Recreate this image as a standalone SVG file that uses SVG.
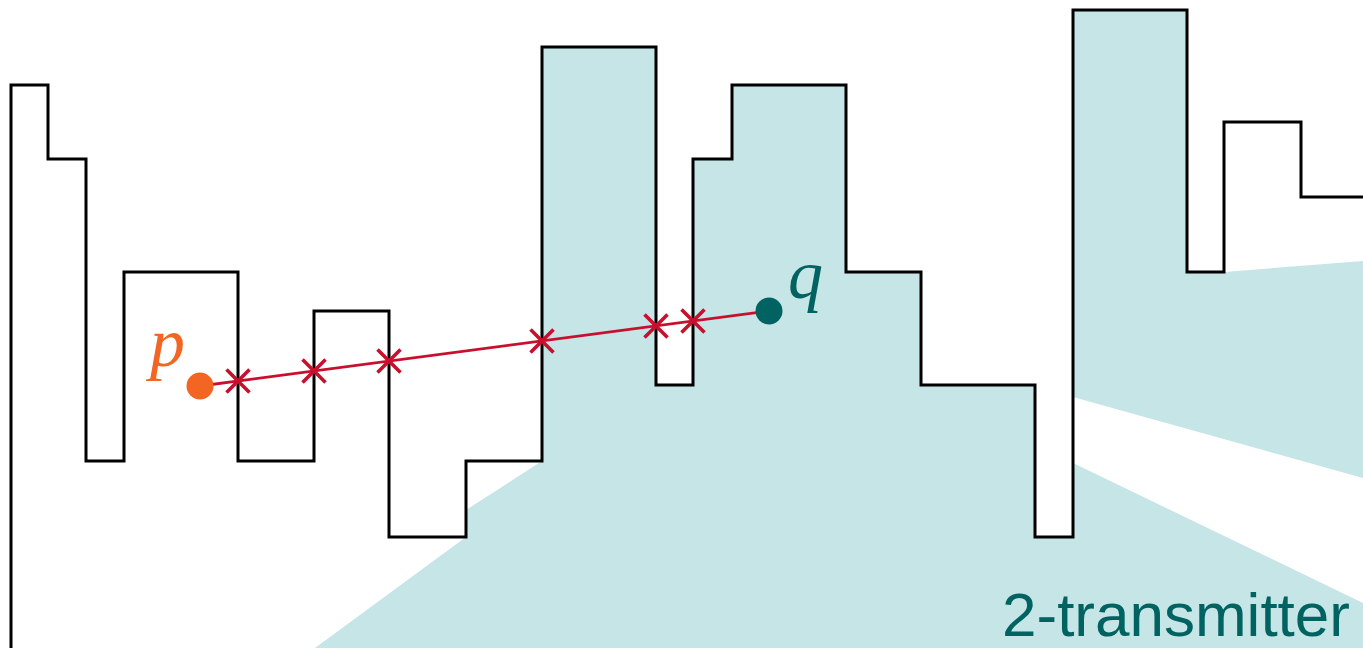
<svg xmlns="http://www.w3.org/2000/svg" width="1363" height="648" viewBox="0 0 1363 648">
  <style>
    .shade { fill: #c5e5e6; stroke: none; }
    .terrain { fill: none; stroke: #000; stroke-width: 3; stroke-linejoin: miter; }
    .seg { stroke: #c8102e; stroke-width: 2.8; fill: none; }
    .cross { stroke: #c8102e; stroke-width: 3.6; fill: none; }
    .lbl { font-family: "Liberation Serif", serif; font-style: italic; }
  </style>
  <defs>
    <path id="x" d="M -11.5 -11.5 L 11.5 11.5 M -11.5 11.5 L 11.5 -11.5" class="cross"/>
  </defs>

  <g id="visibility-region">
    <path class="shade" d="M 315 648 L 466 537 L 466 510 L 542 461 L 542 47 L 656 47 L 656 385 L 693 385 L 693 159 L 732 159 L 732 85 L 846 85 L 846 272 L 921 272 L 921 385 L 1035 385 L 1035 537 L 1073 537 L 1073 463 L 1363 603 L 1363 648 Z"/>
    <path class="shade" d="M 1073 10 L 1187 10 L 1187 272 L 1224 272 L 1363 261 L 1363 478 L 1073 397 Z"/>
  </g>

  <g id="terrain">
    <polyline class="terrain" points="11,648 11,85 48,85 48,159 86,159 86,461 124,461 124,272 238,272 238,461 314,461 314,311 389,311 389,537 466,537 466,461 542,461 542,47 656,47 656,385 693,385 693,159 732,159 732,85 846,85 846,272 921,272 921,385 1035,385 1035,537 1073,537 1073,10 1187,10 1187,272 1224,272 1224,122 1301,122 1301,197 1363,197"/>
  </g>

  <g id="connectors">
    <line class="seg" x1="200" y1="386" x2="769" y2="311"/>
    <use href="#x" x="238" y="381"/>
    <use href="#x" x="314" y="371"/>
    <use href="#x" x="389" y="361"/>
    <use href="#x" x="542" y="341"/>
    <use href="#x" x="656" y="326"/>
    <use href="#x" x="693" y="321"/>
  </g>

  <g id="p">
    <circle cx="200" cy="386" r="13.5" fill="#f26522"/>
    <text class="lbl" x="150" y="366" font-size="70" fill="#f26522">p</text>
  </g>

  <g id="q">
    <circle cx="769" cy="311" r="13.5" fill="#006361"/>
    <text class="lbl" x="788" y="298" font-size="70" fill="#006361">q</text>
  </g>

  <g id="label">
    <text x="1002" y="636" font-family="Liberation Sans, sans-serif" font-size="62" fill="#006361">2-transmitter</text>
  </g>
</svg>
